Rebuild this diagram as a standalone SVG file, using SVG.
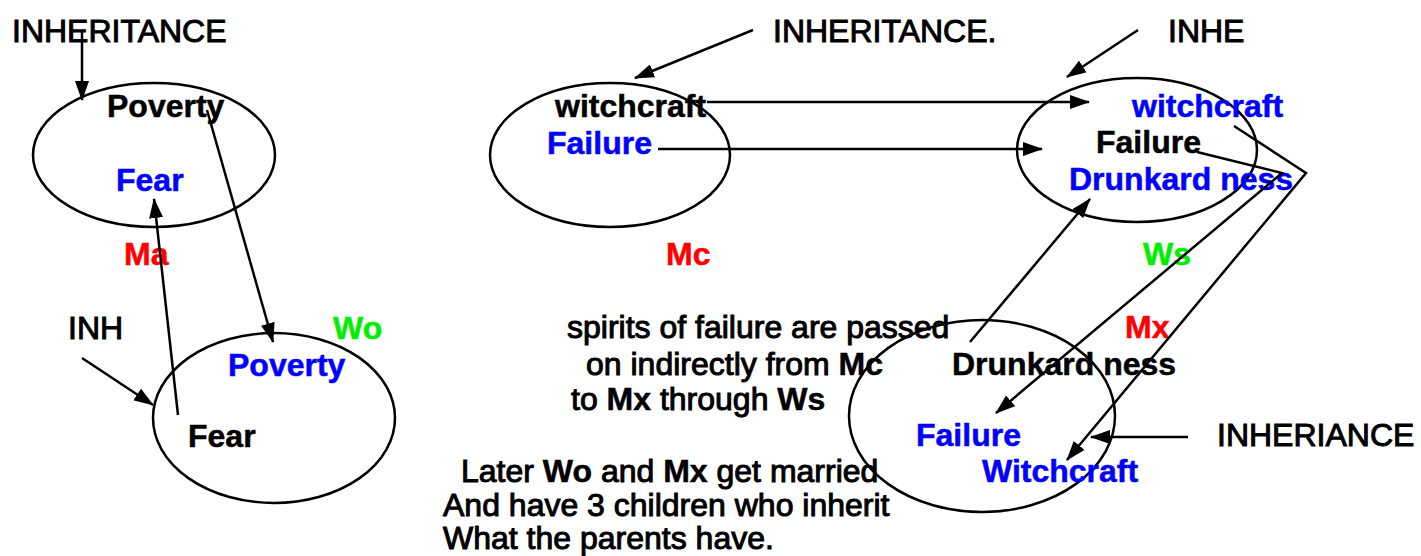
<svg xmlns="http://www.w3.org/2000/svg" width="1421" height="556" viewBox="0 0 1421 556">
<style>
text{font-family:"Liberation Sans",Arial,sans-serif;font-size:32px;fill:#000;stroke:#000;stroke-width:0.5}
.b{font-weight:bold}
.r{font-weight:normal;stroke-width:1}
.r .b{stroke-width:0.5}
.blue{fill:#0000ff;stroke:#0000ff}
.red{fill:#ff0000;stroke:#ff0000}
.green{fill:#00ee00;stroke:#00ee00}
ellipse{fill:none;stroke:#000;stroke-width:2.5}
.c line,.c polyline{fill:none;stroke:#000;stroke-width:2.5}
</style>
<defs>
<marker id="ah" viewBox="0 0 20 14" markerWidth="20" markerHeight="14" refX="19" refY="7" orient="auto" markerUnits="userSpaceOnUse">
<path d="M0,0 L20,7 L0,14 z" fill="#000"/>
</marker>
</defs>
<rect width="1421" height="556" fill="#fff"/>

<g id="node-ma">
<ellipse cx="154" cy="155" rx="121" ry="72"/>
<text x="107" y="117" class="b">Poverty</text>
<text x="116" y="191" class="b blue">Fear</text>
<text x="124" y="265" class="b red">Ma</text>
</g>
<g id="node-wo">
<ellipse cx="274" cy="418" rx="121" ry="85"/>
<text x="333" y="339" class="b green">Wo</text>
<text x="228" y="376" class="b blue">Poverty</text>
<text x="188" y="447" class="b">Fear</text>
</g>
<g id="node-mc">
<ellipse cx="610" cy="155" rx="120" ry="72"/>
<text x="555" y="117" class="b">witchcraft</text>
<text x="547" y="154" class="b blue">Failure</text>
<text x="666" y="265" class="b red">Mc</text>
</g>
<g id="node-ws">
<ellipse cx="1137" cy="150" rx="120" ry="72"/>
<text x="1132" y="117" class="b blue">witchcraft</text>
<text x="1096" y="153" class="b">Failure</text>
<text x="1069" y="190" class="b blue">Drunkard ness</text>
<text x="1143" y="265" class="b green">Ws</text>
</g>
<g id="node-mx">
<ellipse cx="982" cy="416" rx="133" ry="96"/>
<text x="1125" y="338" class="b red">Mx</text>
<text x="952" y="375" class="b">Drunkard ness</text>
<text x="916" y="446" class="b blue">Failure</text>
<text x="982" y="482" class="b blue">Witchcraft</text>
</g>

<g id="labels">
<text x="12" y="42" class="r">INHERITANCE</text>
<text x="68" y="339" class="r">INH</text>
<text x="773" y="42" class="r">INHERITANCE.</text>
<text x="1168" y="42" class="r">INHE</text>
<text x="1217" y="446" class="r">INHERIANCE</text>
</g>

<g id="notes">
<text x="567" y="338" class="r">spirits of failure are passed</text>
<text x="586" y="375" class="r">on indirectly from <tspan class="b">Mc</tspan></text>
<text x="571" y="410" class="r">to <tspan class="b">Mx</tspan> through <tspan class="b">Ws</tspan></text>
<text x="461" y="482" class="r">Later <tspan class="b">Wo</tspan> and <tspan class="b">Mx</tspan> get married</text>
<text x="443" y="516" class="r">And have 3 children who inherit</text>
<text x="443" y="549" class="r">What the parents have.</text>
</g>

<g id="connectors" class="c">
<line x1="82" y1="30" x2="82" y2="100" marker-end="url(#ah)"/>
<line x1="207" y1="110" x2="273" y2="342" marker-end="url(#ah)"/>
<line x1="178" y1="415" x2="154" y2="199" marker-end="url(#ah)"/>
<line x1="82" y1="358" x2="153" y2="405" marker-end="url(#ah)"/>
<line x1="753" y1="30" x2="635" y2="78" marker-end="url(#ah)"/>
<line x1="707" y1="102" x2="1089" y2="102" marker-end="url(#ah)"/>
<line x1="658" y1="149" x2="1042" y2="149" marker-end="url(#ah)"/>
<line x1="1138" y1="30" x2="1067" y2="77" marker-end="url(#ah)"/>
<polyline points="1234,126 1306,173 1067,460" marker-end="url(#ah)"/>
<polyline points="1197,152 1282,173 996,413" marker-end="url(#ah)"/>
<line x1="970" y1="342" x2="1090" y2="199" marker-end="url(#ah)"/>
<line x1="1188" y1="437" x2="1091" y2="437" marker-end="url(#ah)"/>
</g>
</svg>
